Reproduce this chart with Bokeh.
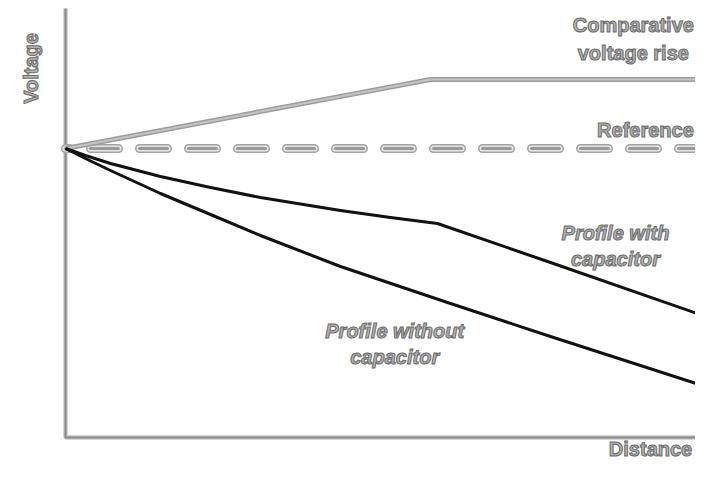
from bokeh.plotting import figure
from bokeh.models import Range1d, Label
from bokeh.embed import file_html
from bokeh.resources import INLINE

# ---- data (distance in % of feeder length, voltage in % of reference) ----
distance_without = [0, 3.13, 7.05, 14.89, 22.73, 30.56, 43.10, 59.87, 76.02, 101.25]
voltage_without = [100, 96.54, 92.39, 84.43, 77.16, 69.90, 59.17, 46.71, 34.95, 16.96]

distance_with = [0, 3.13, 7.05, 14.89, 22.73, 30.56, 43.10, 50.94, 58.31, 76.02, 101.25]
voltage_with = [100, 97.58, 94.81, 90.31, 86.51, 83.04, 78.55, 76.12, 74.05, 60.55, 41.18]

distance_rise = [0, 57.2, 100.6]
voltage_rise = [100, 123.9, 123.9]

distance_ref = [0, 101.3]
voltage_ref = [100, 100]

axis_x = [0, 0, 101.3]
axis_y = [148.4, 0, 0]

p = figure(width=695, height=461, output_backend="svg", toolbar_location=None,
           x_range=Range1d(-10.188, 98.746), y_range=Range1d(-8.304, 151.21),
           min_border=0, x_axis_type=None, y_axis_type=None)
p.grid.grid_line_color = None
p.outline_line_color = None
p.background_fill_color = "white"

# axes
p.line(axis_x, axis_y, line_color="#b0b0b0", line_width=4)
p.line(axis_x, axis_y, line_color="#8a8a8a", line_width=1.5)

# reference (hollow dashed)
for w, c in [(9, "#a4a4a4"), (6, "#e4e4e4"), (3, "#9a9a9a")]:
    p.line(distance_ref, voltage_ref, line_color=c, line_width=w,
           line_dash="28 21", line_dash_offset=24, line_cap="round")

# comparative voltage rise
p.line(distance_rise, voltage_rise, line_color="#9c9c9c", line_width=5)
p.line(distance_rise, voltage_rise, line_color="#c4c4c4", line_width=2)

# profiles
p.line(distance_with, voltage_with, line_color="#111111", line_width=3, line_join="round")
p.line(distance_without, voltage_without, line_color="#111111", line_width=3, line_join="round")

def lab(x, y, t, italic=False, angle=0):
    p.add_layout(Label(x=x, y=y, text=t, text_font="Liberation Sans",
                       text_font_size="20px",
                       text_font_style="bold italic" if italic else "bold",
                       text_color="#b4b4b4", text_outline_color="#6a6a6a",
                       text_align="center", text_baseline="middle", angle=angle))

lab(89.0, 142.6, "Comparative")
lab(89.0, 133.2, "voltage rise")
lab(90.9, 106.4, "Reference")
lab(86.2, 70.9, "Profile with", italic=True)
lab(86.2, 61.9, "capacitor", italic=True)
lab(51.6, 37.0, "Profile without", italic=True)
lab(51.6, 28.0, "capacitor", italic=True)
lab(91.7, -3.81, "Distance")
lab(-5.33, 127.7, "Voltage", angle=1.5708)

open("out.html", "w").write(file_html(p, INLINE))
